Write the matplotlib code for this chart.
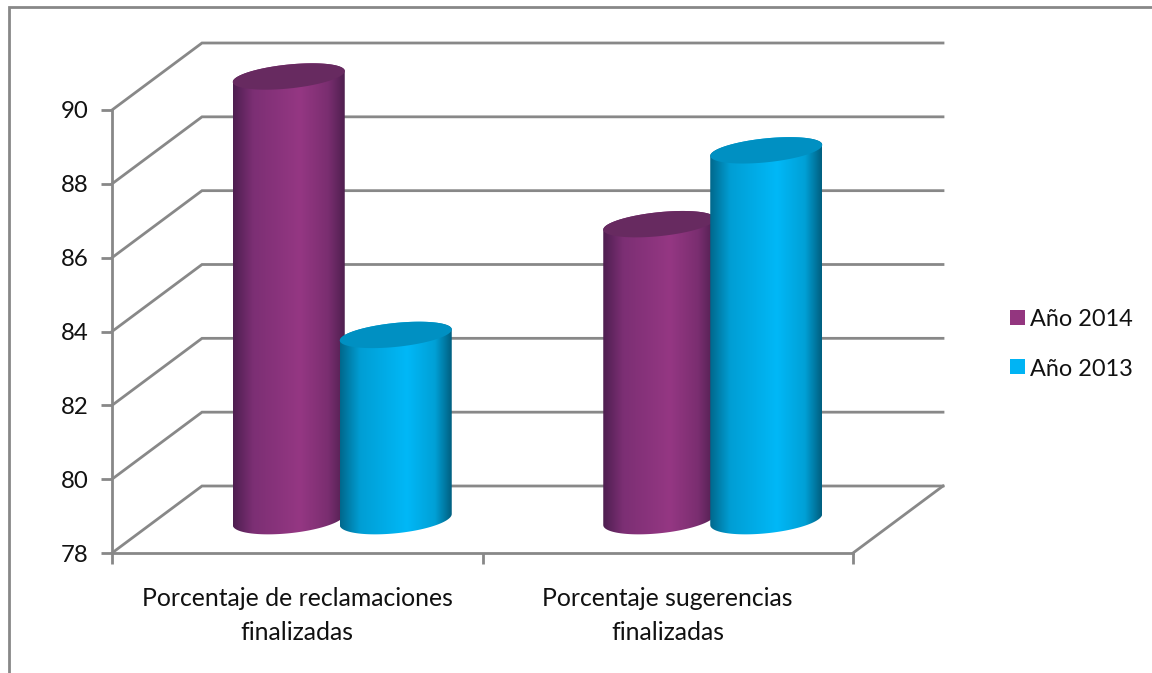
import numpy as np
import matplotlib
matplotlib.use("Agg")
import matplotlib.pyplot as plt
from matplotlib.colors import LinearSegmentedColormap
from matplotlib.lines import Line2D
from matplotlib.patches import PathPatch, Rectangle
from matplotlib.path import Path

categories = ["Porcentaje de reclamaciones\nfinalizadas", "Porcentaje sugerencias\nfinalizadas"]
series_names = ["Año 2014", "Año 2013"]
values_2014 = [90, 86]
values_2013 = [83, 88]
y_ticks = [78, 80, 82, 84, 86, 88, 90]

GREY = "#888888"
LW = 2.0
W, H = 1152, 673

# side shading of each cylinder, top cap colour, legend colour
purple_cmap = LinearSegmentedColormap.from_list("p", [(0, "#4e1e50"), (0.18, "#7c2f74"), (0.6, "#953783"), (0.85, "#7a2e70"), (1, "#4f1f4f")])
blue_cmap = LinearSegmentedColormap.from_list("b", [(0, "#00688c"), (0.18, "#009ed4"), (0.6, "#00b8f7"), (0.85, "#00a0d6"), (1, "#005f80")])
styles = [(purple_cmap, "#672a60", "#93367f"), (blue_cmap, "#0090c2", "#00b4f4")]

plt.rcParams["font.family"] = ["Lato", "DejaVu Sans"]
fig = plt.figure(figsize=(W / 100, H / 100), dpi=100)
ax = fig.add_axes([112 / W, 1 - 553 / H, (853 - 112) / W, (553 - 110) / H])
ax.set_xlim(0, 2)
ax.set_ylim(78, 90)
ax.patch.set_visible(False)

# size of the oblique depth in data units
px_x = 2 / (853 - 112)
px_y = 12 / (553 - 110)
dx = 90 * px_x
dy = 67 * px_y

# frame runs off the image on the right and at the bottom
fig.add_artist(Line2D([9 / W, 9 / W, 1], [0, 1 - 7 / H, 1 - 7 / H], transform=fig.transFigure,
                      color=GREY, lw=LW, solid_joinstyle="miter"))

for spine in ["top", "right"]:
    ax.spines[spine].set_visible(False)
for spine in ["left", "bottom"]:
    ax.spines[spine].set_color(GREY)
    ax.spines[spine].set_linewidth(LW)

ax.set_yticks(y_ticks)
ax.set_xticks([0, 1, 2])
ax.set_xticklabels([])
ax.tick_params(axis="both", color=GREY, width=LW, length=8, labelsize=17.3, labelcolor="#111111", pad=9)

# walls and floor
for v in y_ticks:
    ax.plot([0, dx, 2 + dx], [v, v + dy, v + dy], color=GREY, lw=LW, clip_on=False, solid_joinstyle="miter", zorder=1)
ax.plot([2, 2 + dx], [78, 78 + dy], color=GREY, lw=LW, clip_on=False, zorder=1)


def cylinder(xc, value, cmap, cap_color, zorder):
    rx = 56 * px_x
    ry = 12 * px_y
    tilt = 5.5 * px_y
    # the cylinder stands halfway into the floor depth
    base = 78 + dy / 2
    top = value + dy / 2
    t = np.linspace(0, np.pi, 60)
    ex = rx * np.cos(t)
    # outline: front of the base ellipse and the back of the top one
    xs = np.concatenate([xc + ex[::-1], xc + ex])
    ys = np.concatenate([base - 1.15 * ry * np.sin(t[::-1]) + tilt * np.cos(t[::-1]),
                         top + ry * np.sin(t) + tilt * np.cos(t)])
    verts = np.column_stack([xs, ys])
    body = PathPatch(Path(np.vstack([verts, verts[0]])), fc="none", ec="none", transform=ax.transData, clip_on=False)
    ax.add_patch(body)
    im = ax.imshow(np.linspace(0, 1, 256)[None, :], cmap=cmap, aspect="auto", zorder=zorder,
                   extent=[xc - rx, xc + rx, 78, top + ry + tilt], interpolation="bilinear")
    # the tops stick out above the axes box
    im.set_clip_box(fig.bbox)
    im.set_clip_path(body)
    t2 = np.linspace(0, 2 * np.pi, 120)
    cap_x = xc + rx * np.cos(t2)
    cap_y = top + ry * np.sin(t2) + tilt * np.cos(t2)
    ax.fill(cap_x, cap_y, color=cap_color, lw=0, zorder=zorder + 0.1, clip_on=False)


for i in range(2):
    center = i + 0.5 + dx / 2
    off = 53.5 * px_x
    cylinder(center - off, values_2014[i], styles[0][0], styles[0][1], 2)
    cylinder(center + off, values_2013[i], styles[1][0], styles[1][1], 3)

ax.set_xlim(0, 2)
ax.set_ylim(78, 90)

for i, label in enumerate(categories):
    ax.text(i + 0.5, 78 - 34 * px_y, label, ha="center", va="top", fontsize=17.8, color="#111111", linespacing=1.57)

# legend
for (cmap, cap, swatch), name, y in zip(styles, series_names, [318, 367]):
    fig.add_artist(Rectangle((1010 / W, 1 - (y + 7) / H), 15 / W, 15 / H, transform=fig.transFigure, fc=swatch, ec="none"))
    fig.text(1030 / W, 1 - (y + 2) / H, name, fontsize=16.9, color="#111111", va="center", ha="left")

fig.savefig("out.png", dpi=100)
